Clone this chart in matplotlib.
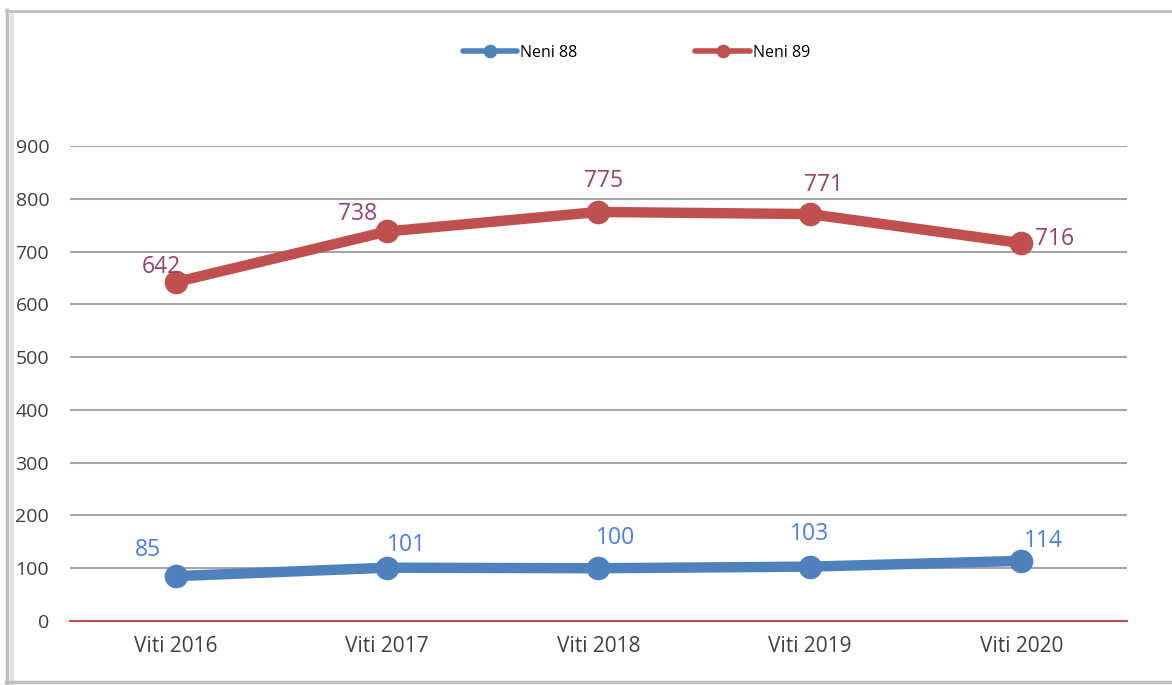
import matplotlib
matplotlib.use("Agg")
import matplotlib.pyplot as plt
from matplotlib.lines import Line2D

plt.rcParams['font.family'] = ['Open Sans', 'DejaVu Sans']

years = ["Viti 2016", "Viti 2017", "Viti 2018", "Viti 2019", "Viti 2020"]
neni88 = [85, 101, 100, 103, 114]
neni89 = [642, 738, 775, 771, 716]
yticks = [0, 100, 200, 300, 400, 500, 600, 700, 800, 900]

# label offsets in points (dx, dy)
off88 = [(-20, 10), (14, 8), (12, 13), (0, 15), (16, 6)]
off89 = [(-10, 2), (-21, 4), (4, 14), (10, 12), (24, -6)]

c88 = "#4F81BD"
c89 = "#C0504D"

fig = plt.figure(figsize=(11.72, 6.85), dpi=100)
ax = fig.add_axes([0.0597, 0.0934, 0.9019, 0.6935])

x = list(range(len(years)))
ax.plot(x, neni88, color=c88, lw=7.5, marker='o', ms=16, label="Neni 88",
        solid_capstyle='round', zorder=3)
ax.plot(x, neni89, color=c89, lw=7.5, marker='o', ms=16, label="Neni 89",
        solid_capstyle='round', zorder=3)

for i, v in enumerate(neni88):
    ax.annotate(str(v), (x[i], v), xytext=off88[i], textcoords='offset points',
                ha='center', va='bottom', fontsize=16.5, color="#4A7CF5")
for i, v in enumerate(neni89):
    ax.annotate(str(v), (x[i], v), xytext=off89[i], textcoords='offset points',
                ha='center', va='bottom', fontsize=16.5, color="#9C3F70")

ax.set_xlim(-0.5, len(years) - 0.5)
ax.set_ylim(0, 900)
ax.set_yticks(yticks)
ax.set_xticks(x)
ax.set_xticklabels(years)
ax.tick_params(axis='both', length=0, labelsize=15, colors="#404040")
ax.tick_params(axis='y', pad=15, labelsize=14)
ax.tick_params(axis='x', pad=11)
ax.grid(axis='y', color="#A6A6A6", lw=1.5)
ax.set_axisbelow(True)
for s in ['top', 'right', 'left']:
    ax.spines[s].set_visible(False)
ax.spines['bottom'].set_color(c89)
ax.spines['bottom'].set_linewidth(1.5)

fig.legend(loc='center', bbox_to_anchor=(0.543, 0.923), ncol=2, frameon=False,
           fontsize=11.5, handlelength=3.4, columnspacing=7.4, markerscale=0.55,
           handletextpad=0.2)
for h in fig.legends[0].get_lines():
    h.set_linewidth(4)

# chart frame with a soft shadow
fig.add_artist(Line2D([0.006, 0.006], [0.0, 0.985], color="#BFBFBF", lw=2.5, transform=fig.transFigure))
fig.add_artist(Line2D([0.010, 0.010], [0.0, 0.98], color="#E3E3E3", lw=3, transform=fig.transFigure))
fig.add_artist(Line2D([0.005, 1.0], [0.984, 0.984], color="#BFBFBF", lw=2, transform=fig.transFigure))
fig.add_artist(Line2D([0.005, 1.0], [0.004, 0.004], color="#BFBFBF", lw=2.5, transform=fig.transFigure))

fig.savefig("out.png", dpi=100)
